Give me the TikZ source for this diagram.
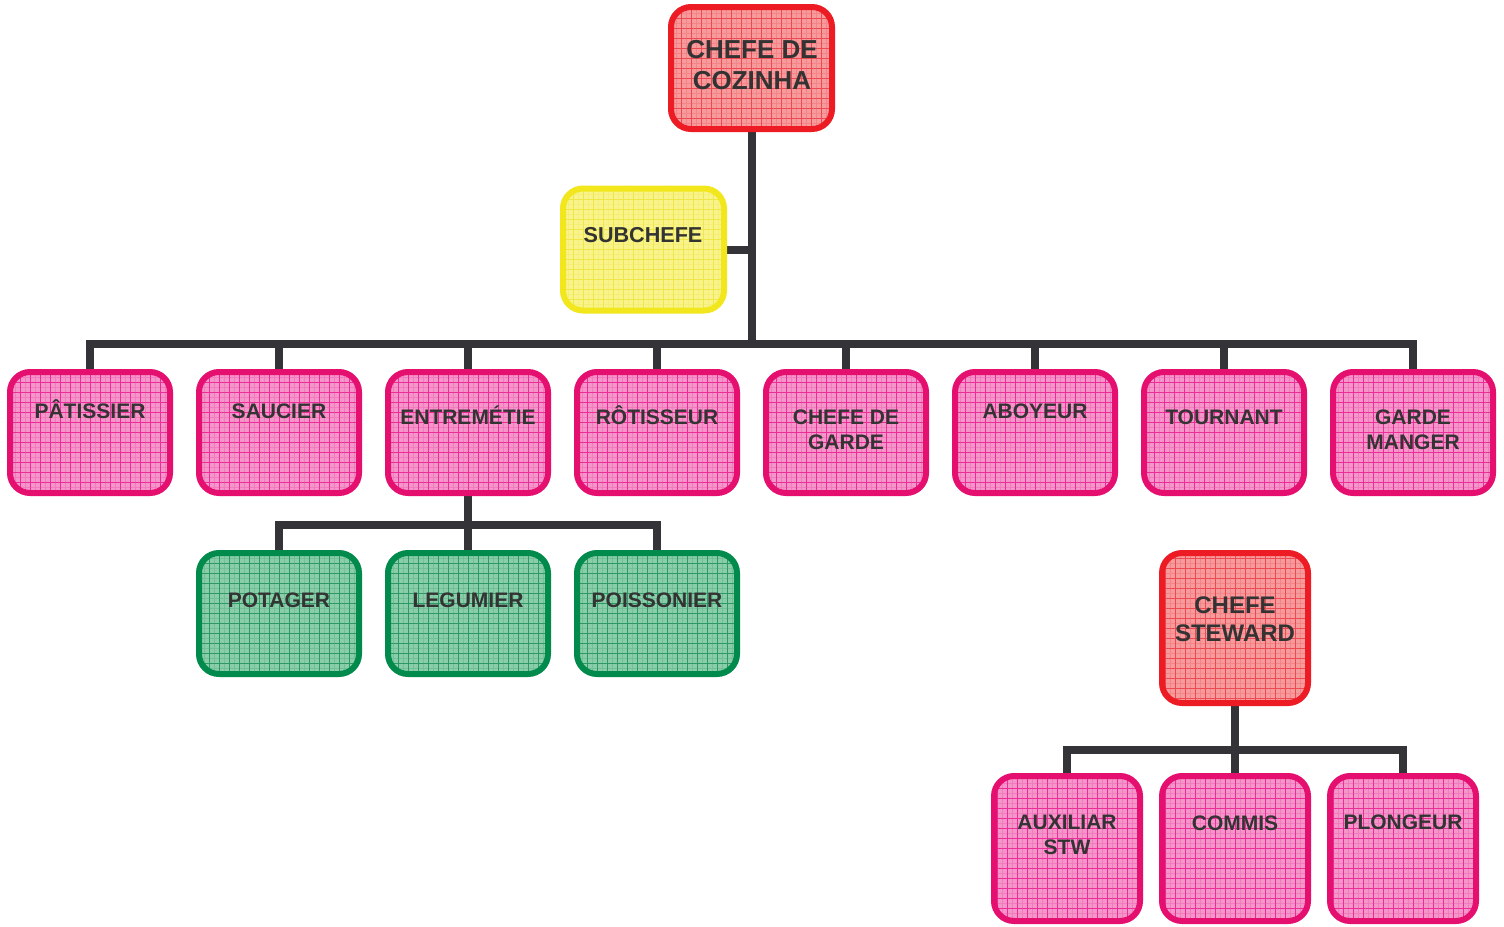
\documentclass[tikz,border=0pt]{standalone}
\usepackage{fontspec}
\setmainfont{Liberation Sans}
\usetikzlibrary{calc,backgrounds}
\definecolor{cRedB}{HTML}{ED1C24}
\definecolor{cRedF}{HTML}{F69A9C}
\definecolor{cRedG}{HTML}{EC4A52}
\definecolor{cPinkB}{HTML}{E50F6F}
\definecolor{cPinkF}{HTML}{F596CB}
\definecolor{cPinkG}{HTML}{EC2C98}
\definecolor{cGreenB}{HTML}{008A4B}
\definecolor{cGreenF}{HTML}{8ACDA9}
\definecolor{cGreenG}{HTML}{2E9966}
\definecolor{cYelB}{HTML}{F2E71C}
\definecolor{cYelF}{HTML}{F8F38A}
\definecolor{cYelG}{HTML}{EFE74A}
\definecolor{cConn}{HTML}{333338}
\definecolor{cText}{HTML}{333333}
\tikzset{
  gbox/.style n args={3}{draw=#1, fill=#2, line width=3pt, rounded corners=10pt,
    path picture={
      \draw[#3, sharp corners, line width=0.25pt, opacity=0.25, step=2.5pt]
        (path picture bounding box.south west) grid (path picture bounding box.north east);
      \draw[#3, sharp corners, line width=0.5pt, step=5pt]
        (path picture bounding box.south west) grid (path picture bounding box.north east);}},
  redbox/.style={gbox={cRedB}{cRedF}{cRedG}},
  pinkbox/.style={gbox={cPinkB}{cPinkF}{cPinkG}},
  greenbox/.style={gbox={cGreenB}{cGreenF}{cGreenG}},
  yelbox/.style={gbox={cYelB}{cYelF}{cYelG}},
  bigbox/.style={minimum width=80.5pt, minimum height=61pt, inner sep=0pt},
  rowbox/.style={minimum width=80pt, minimum height=60.5pt, inner sep=0pt},
  stbox/.style={minimum width=73pt, minimum height=75pt, inner sep=0pt},
  botbox/.style={minimum width=73pt, minimum height=72.5pt, inner sep=0pt},
  lbl/.style={text=cText, inner sep=0pt, align=center, font=\bfseries\fontsize{10.5}{12.5}\selectfont},
  one/.style={text height=7.5pt, text depth=0pt},
  conn/.style={draw=cConn, line width=4pt},
}
\begin{document}
\begin{tikzpicture}[x=0.5pt,y=-0.5pt]
\useasboundingbox (0,0) rectangle (1504,926);
% boxes
\node[redbox, bigbox] (cdc) at (751.5,68) {};
\node[yelbox, bigbox] (sub) at (643.5,249.5) {};
\node[pinkbox, rowbox] (pat) at (90,432.5) {};
\node[pinkbox, rowbox] (sau) at (279,432.5) {};
\node[pinkbox, rowbox] (ent) at (468,432.5) {};
\node[pinkbox, rowbox] (rot) at (657,432.5) {};
\node[pinkbox, rowbox] (cdg) at (846,432.5) {};
\node[pinkbox, rowbox] (abo) at (1035,432.5) {};
\node[pinkbox, rowbox] (tou) at (1224,432.5) {};
\node[pinkbox, rowbox] (gma) at (1413,432.5) {};
\node[greenbox, rowbox] (pot) at (279,613.5) {};
\node[greenbox, rowbox] (leg) at (468,613.5) {};
\node[greenbox, rowbox] (poi) at (657,613.5) {};
\node[redbox, stbox] (cst) at (1235,628) {};
\node[pinkbox, botbox] (aux) at (1067,848.5) {};
\node[pinkbox, botbox] (com) at (1235,848.5) {};
\node[pinkbox, botbox] (plo) at (1403,848.5) {};
% bus coordinates
\coordinate (bus1) at (0,343.5);
\coordinate (bus2) at (0,525);
\coordinate (bus3) at (0,749.5);
% connectors (drawn behind boxes)
\begin{scope}[on background layer]
\fill[white] (0,0) rectangle (1504,926);
\draw[conn] (cdc.south) -- (cdc.south |- bus1);
\draw[conn] (sub.east) -- (sub.east -| cdc.south);
\foreach \b in {pat,sau,ent,rot,cdg,abo,tou,gma}
  \draw[conn] (\b.north) |- (cdc.south |- bus1);
\draw[conn] (ent.south) -- (ent.south |- bus2);
\foreach \b in {pot,leg,poi}
  \draw[conn] (\b.north) |- (ent.south |- bus2);
\draw[conn] (cst.south) -- (cst.south |- bus3);
\foreach \b in {aux,com,plo}
  \draw[conn] (\b.north) |- (cst.south |- bus3);
\end{scope}
% labels
\node[lbl, font=\bfseries\fontsize{13}{15.5}\selectfont] (tcdc) at (752,65.5) {CHEFE DE\\COZINHA};
\node[lbl, one, font=\bfseries\fontsize{10.8}{12.5}\selectfont] (tsub) at (643,235) {SUBCHEFE};
\node[lbl, one] (tpat) at (90,411) {PÂTISSIER};
\node[lbl, one] (tsau) at (279,411) {SAUCIER};
\node[lbl, one] (tent) at (468,417) {ENTREMÉTIE};
\node[lbl, one] (trot) at (657,417) {RÔTISSEUR};
\node[lbl] (tcdg) at (846,429.5) {CHEFE DE\\GARDE};
\node[lbl, one] (tabo) at (1035,411) {ABOYEUR};
\node[lbl, one] (ttou) at (1224,417) {TOURNANT};
\node[lbl] (tgma) at (1413,429.5) {GARDE\\MANGER};
\node[lbl, one] (tpot) at (279,600) {POTAGER};
\node[lbl, one] (tleg) at (468,600) {LEGUMIER};
\node[lbl, one] (tpoi) at (657,600) {POISSONIER};
\node[lbl, font=\bfseries\fontsize{12}{14}\selectfont] (tcst) at (1235,619) {CHEFE\\STEWARD};
\node[lbl] (taux) at (1067,834.5) {AUXILIAR\\STW};
\node[lbl, one] (tcom) at (1235,823) {COMMIS};
\node[lbl, one] (tplo) at (1403,822) {PLONGEUR};
\end{tikzpicture}
\end{document}
